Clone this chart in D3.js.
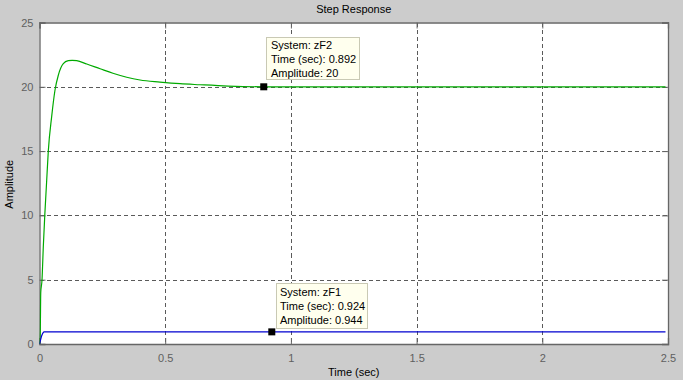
<!DOCTYPE html>
<html><head><meta charset="utf-8">
<script src="https://cdn.jsdelivr.net/npm/d3@7"></script>
<style>
html,body{margin:0;padding:0;background:#cccccc;}
svg{display:block;}
</style></head>
<body>
<svg id="c" width="683" height="380"></svg>
<script>
// Data
const zF2_t = [0, 0.003, 0.005, 0.010, 0.015, 0.021, 0.028, 0.035, 0.0485, 0.0617, 0.0748, 0.0947, 0.1146, 0.13, 0.148, 0.188, 0.241, 0.292, 0.347, 0.400, 0.479, 0.559, 0.638, 0.75, 0.892, 1.1, 1.5, 2.0, 2.49];
const zF2_v = [0, 1.0, 4.0, 5.0, 7.5, 10, 12.5, 15, 17.7, 19.75, 20.9, 21.8, 22.03, 22.06, 22.03, 21.77, 21.4, 21.05, 20.74, 20.53, 20.37, 20.24, 20.16, 20.06, 20.0, 20.0, 20.0, 20.0, 20.0];
const zF1_t = [0, 0.004, 0.008, 0.012, 0.018, 0.5, 0.924, 1.5, 2.0, 2.49];
const zF1_v = [0, 0.3, 0.6, 0.8, 0.944, 0.944, 0.944, 0.944, 0.944, 0.944];
const xTicks = [0, 0.5, 1, 1.5, 2, 2.5];
const yTicks = [0, 5, 10, 15, 20, 25];
const tips = [
  {system: "zF2", t: 0.892, v: 20, lines: ["System: zF2", "Time (sec): 0.892", "Amplitude: 20"]},
  {system: "zF1", t: 0.924, v: 0.944, lines: ["System: zF1", "Time (sec): 0.924", "Amplitude: 0.944"]}
];

const svg = d3.select("#c");
const L = 39.5, R = 668, T = 22.5, B = 344;
const x = d3.scaleLinear().domain([0, 2.5]).range([L, R]);
const y = d3.scaleLinear().domain([0, 25]).range([B, T]);
const font = "'Liberation Sans', Arial, sans-serif";

svg.append("rect").attr("width", 683).attr("height", 380).attr("fill", "#cccccc");
svg.append("rect").attr("x", L).attr("y", T).attr("width", R - L).attr("height", B - T).attr("fill", "#ffffff");

// grid
const grid = svg.append("g").attr("stroke", "#5a5a5a").attr("stroke-width", 1).attr("stroke-dasharray", "4,3").attr("shape-rendering", "crispEdges");
xTicks.slice(1, -1).forEach(v => grid.append("line").attr("x1", Math.round(x(v)) + 0.5).attr("x2", Math.round(x(v)) + 0.5).attr("y1", T).attr("y2", B));
yTicks.slice(1, -1).forEach(v => grid.append("line").attr("y1", Math.round(y(v)) + 0.5).attr("y2", Math.round(y(v)) + 0.5).attr("x1", L).attr("x2", R));

// axes (MATLAB-like: ticks inside, box)
const xAx = d3.axisBottom(x).tickValues(xTicks).tickSize(-6).tickPadding(10).tickFormat(d3.format("~g"));
const yAx = d3.axisLeft(y).tickValues(yTicks).tickSize(-6).tickPadding(6).tickFormat(d3.format("~g"));
const gx = svg.append("g").attr("transform", `translate(0,${B})`).call(xAx);
const gy = svg.append("g").attr("transform", `translate(${L},0)`).call(yAx);
const gxt = svg.append("g").attr("transform", `translate(0,${T})`).call(d3.axisTop(x).tickValues(xTicks).tickSize(-6).tickFormat(""));
const gyr = svg.append("g").attr("transform", `translate(${R},0)`).call(d3.axisRight(y).tickValues(yTicks).tickSize(-6).tickFormat(""));
[gx, gy, gxt, gyr].forEach(g => {
  g.selectAll(".domain").attr("stroke", "#666666").attr("stroke-width", 1.3);
  g.selectAll(".tick line").attr("stroke", "#666666");
  g.selectAll("text").attr("fill", "#5f5f5f").attr("font-family", font).attr("font-size", 11);
});

// lines
const clip = svg.append("clipPath").attr("id", "pc").append("rect").attr("x", L).attr("y", T).attr("width", R - L).attr("height", B - T);
const line = d3.line().x(d => x(d[0])).y(d => y(d[1])).curve(d3.curveMonotoneX);
const d2 = zF2_t.map((t, i) => [t, zF2_v[i]]);
const d1 = zF1_t.map((t, i) => [t, zF1_v[i]]);
svg.append("path").attr("d", line(d2)).attr("fill", "none").attr("stroke", "#00aa00").attr("stroke-width", 1.2).attr("clip-path", "url(#pc)");
svg.append("path").attr("d", line(d1)).attr("fill", "none").attr("stroke", "#0000d0").attr("stroke-width", 1.2).attr("clip-path", "url(#pc)");

// labels
svg.append("text").attr("x", (L + R) / 2).attr("y", 13).attr("text-anchor", "middle").attr("font-family", font).attr("font-size", 11).attr("fill", "#000").text("Step Response");
svg.append("text").attr("x", (L + R) / 2).attr("y", 376).attr("text-anchor", "middle").attr("font-family", font).attr("font-size", 11).attr("fill", "#000").text("Time (sec)");
svg.append("text").attr("transform", `translate(13,${(T + B) / 2 + 1}) rotate(-90)`).attr("text-anchor", "middle").attr("font-family", font).attr("font-size", 11).attr("fill", "#000").text("Amplitude");

// datatips
const boxes = [
  {x0: 266, y0: 37.5, w: 93, h: 42, tx: 271, ty: 49},
  {x0: 276, y0: 283.5, w: 91, h: 45, tx: 280, ty: 296}
];
tips.forEach((tp, i) => {
  const b = boxes[i];
  svg.append("rect").attr("x", b.x0 + 0.5).attr("y", b.y0).attr("width", b.w).attr("height", b.h)
    .attr("fill", "#ffffee").attr("stroke", "#c9c9b4").attr("stroke-width", 1);
  tp.lines.forEach((s, j) => {
    svg.append("text").attr("x", b.tx).attr("y", b.ty + j * 14).attr("font-family", font).attr("font-size", 11).attr("fill", "#000").text(s);
  });
  svg.append("rect").attr("x", x(tp.t) - 3.5).attr("y", y(tp.v) - 3.5).attr("width", 7).attr("height", 7).attr("fill", "#000");
});
</script>
</body></html>
